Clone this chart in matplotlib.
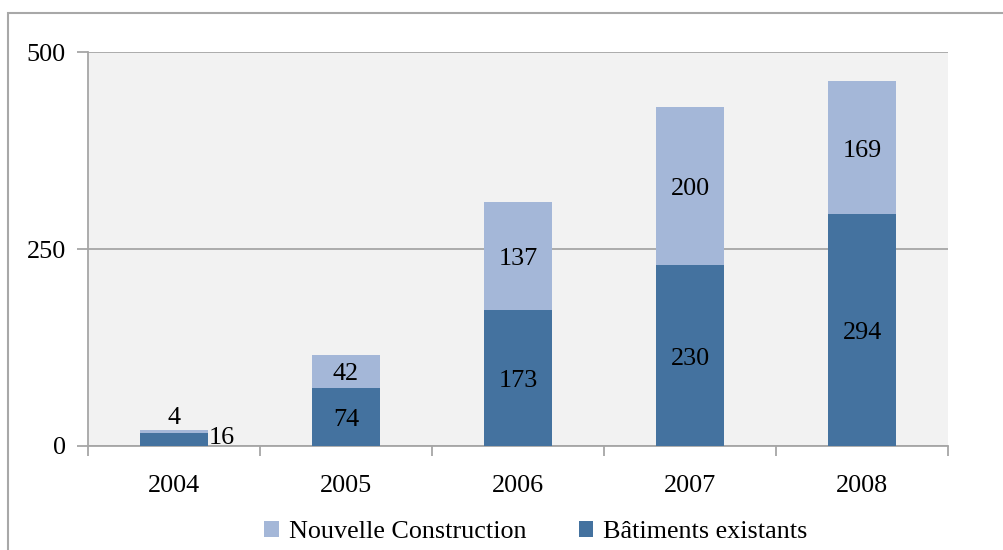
import matplotlib
matplotlib.use("Agg")
import matplotlib.pyplot as plt
from matplotlib.patches import Rectangle
import numpy as np

years = ["2004", "2005", "2006", "2007", "2008"]
existants = [16, 74, 173, 230, 294]
nouvelle = [4, 42, 137, 200, 169]
yticks = [0, 250, 500]

dark = "#44729f"
light = "#a4b7d8"
grid = "#a6a6a6"

plt.rcParams['font.family'] = ['Liberation Serif', 'DejaVu Serif']
fs = 18.8

fig = plt.figure(figsize=(10.04, 5.5), dpi=100)
W, H = 1004, 550
# outer frame
fig.patches.append(Rectangle((8 / W, -0.1), 1.2, (550 - 13) / H + 0.1, transform=fig.transFigure,
                             fill=False, edgecolor="#a8a8a8", linewidth=1.5))

ax = fig.add_axes([88 / W, 1 - 446 / H, (948 - 88) / W, (446 - 52) / H])
ax.set_facecolor("#f2f2f2")
x = np.arange(len(years))
bw = 0.4
b1 = ax.bar(x, existants, bw, color=dark, label="Bâtiments existants", zorder=3)
b2 = ax.bar(x, nouvelle, bw, bottom=existants, color=light, label="Nouvelle Construction", zorder=3)

ax.set_xlim(-0.5, len(years) - 0.5)
ax.set_ylim(0, 500)
ax.set_yticks(yticks)
ax.set_yticklabels([str(v) for v in yticks], fontsize=fs)
ax.yaxis.grid(True, color=grid, linewidth=1.3, zorder=1)
ax.set_axisbelow(True)

ax.set_xticks(x)
ax.set_xticklabels(years, fontsize=fs)
ax.tick_params(axis='x', length=0, pad=21)
ax.set_xticks(np.arange(-0.5, len(years) + 0.5, 1), minor=True)
ax.tick_params(axis='x', which='minor', length=7, color=grid, width=1.3)
ax.tick_params(axis='y', length=8, color=grid, width=1.3, pad=8)

for s in ['top', 'right']:
    ax.spines[s].set_visible(False)
for s in ['left', 'bottom']:
    ax.spines[s].set_color(grid)
    ax.spines[s].set_linewidth(1.3)

for i in range(len(years)):
    e, n = existants[i], nouvelle[i]
    if e < 40:
        ax.text(x[i], e + n + 1, str(n), ha='center', va='bottom', fontsize=fs, zorder=5)
        ax.text(x[i] + bw / 2, e / 2 + 2, str(e), ha='left', va='center', fontsize=fs, zorder=5)
    else:
        ax.text(x[i], e / 2 - 4, str(e), ha='center', va='center', fontsize=fs, zorder=5)
        ax.text(x[i], e + n / 2 - 4, str(n), ha='center', va='center', fontsize=fs, zorder=5)

handles = [b2, b1]
fig.legend(handles, [h.get_label() for h in handles], loc='center', bbox_to_anchor=(536 / W, 1 - 532 / H),
           ncol=2, frameon=False, fontsize=fs, handlelength=0.55, handleheight=0.55,
           handletextpad=0.4, columnspacing=2.0)

fig.savefig("out.png", dpi=100)
